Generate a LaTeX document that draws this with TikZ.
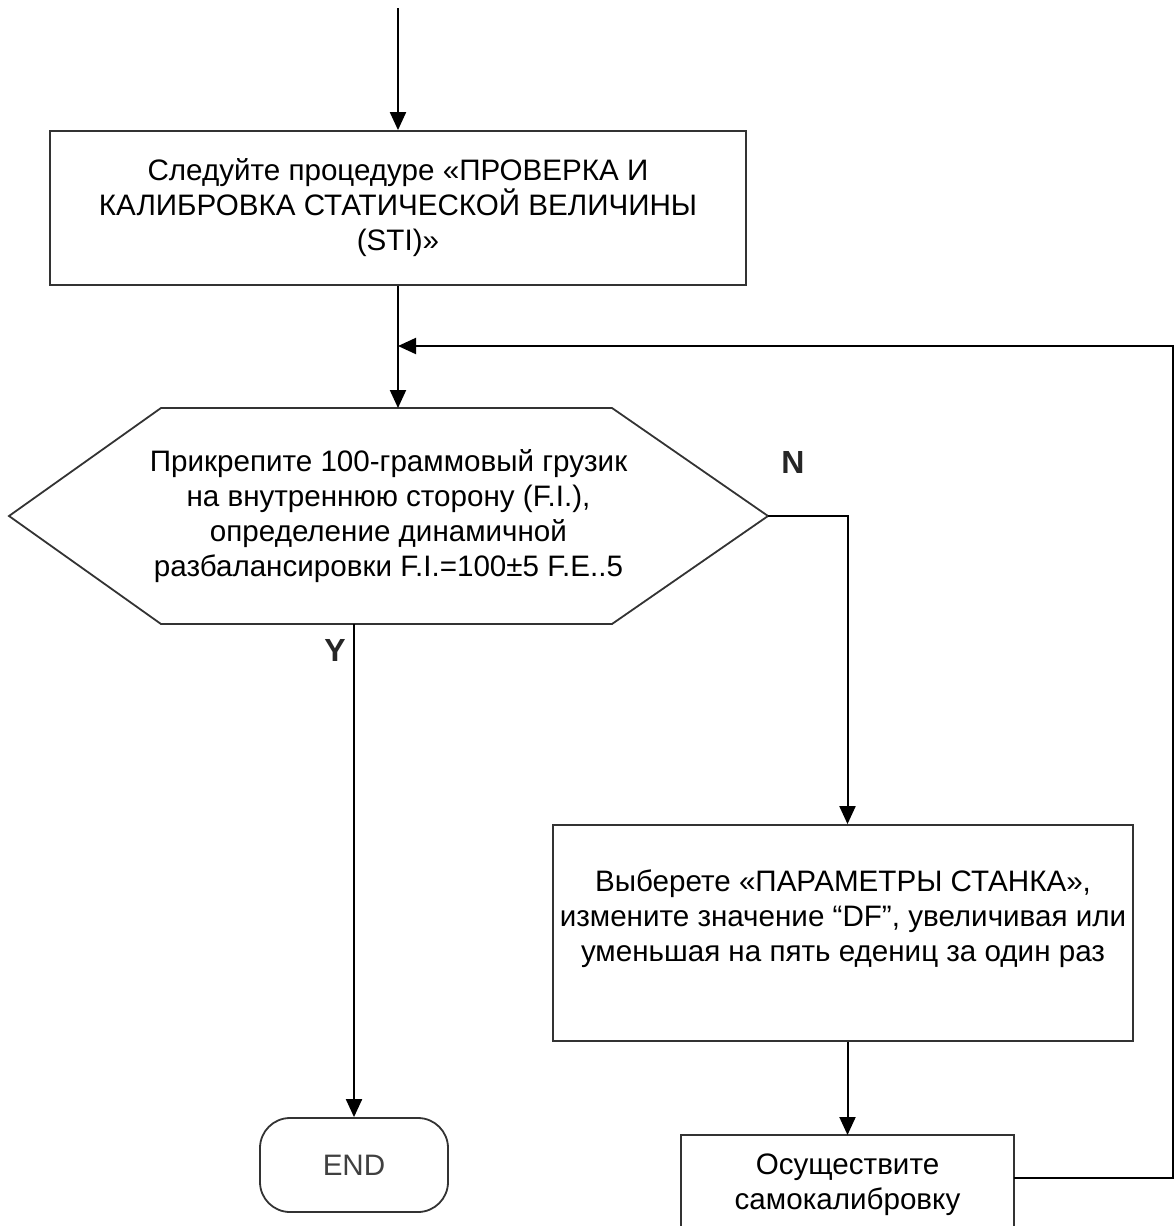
\documentclass[tikz,border=0pt]{standalone}
\usepackage{fontspec}
\setmainfont{Liberation Sans}
\usetikzlibrary{arrows.meta,positioning}

\begin{document}
\begin{tikzpicture}[
  x=0.5pt, y=-0.5pt,
  every node/.style={font=\fontsize{14.8}{17.5}\selectfont},
  box/.style={rectangle, draw=black!80, line width=0.9pt, align=center, inner sep=2pt},
  term/.style={box, rounded corners=15pt, text=black!75},
  yn/.style={font=\fontsize{16}{18}\selectfont\bfseries, text=black!85},
  frame/.style={draw=black!80, line width=0.9pt},
  arr/.style={-{Triangle[length=9pt,width=8pt]}, line width=1pt}
]
\useasboundingbox (0,0) rectangle (1175,1226);

% boxes
\node[box, minimum width=348pt, minimum height=77pt] (sti) at (398,208)
  {Следуйте процедуре «ПРОВЕРКА И\\ КАЛИБРОВКА СТАТИЧЕСКОЙ ВЕЛИЧИНЫ\\ (STI)»};
\draw[frame] (9,516) -- (161,408) -- (612,408) -- (768,516) -- (612,624) -- (161,624) -- cycle;
\node[align=center] (check) at (388.5,516)
  {Прикрепите 100-граммовый грузик\\ на внутреннюю сторону (F.I.),\\ определение динамичной\\ разбалансировки F.I.=100±5 F.E..5};
\node[box, minimum width=290pt, minimum height=108pt] (param) at (843,933)
  {Выберете «ПАРАМЕТРЫ СТАНКА»,\\ измените значение “DF”, увеличивая или\\ уменьшая на пять едениц за один раз\\~};
\node[box, draw=none, anchor=north, minimum width=165.5pt, minimum height=49pt] (calib) at (847.5,1135)
  {Осуществите\\ самокалибровку};
\node[term, minimum width=94pt, minimum height=47pt] (done) at (354,1165) {END};

% free ends
\coordinate (start) at (398,8);
\coordinate (hexN) at (398,408);
\coordinate (hexE) at (768,516);
\coordinate (hexS) at (354,624);
\coordinate (loopT) at (1173,346);
\coordinate (loopB) at (1173,1178);
\coordinate (cut) at (0,1260);

% box cut by the page edge
\draw[frame] (calib.west |- cut) -- (calib.north west) -- (calib.north east) -- (calib.east |- cut);

% connectors
\draw[arr] (start) -- (sti);
\draw[arr] (sti) -- (hexN);
\draw[arr] (calib.east |- loopB) -- (loopB) -- (loopT) -- (sti.south |- loopT);
\draw[arr] (hexE) -- (hexE -| calib.north) -- (calib.north |- param.north);
\draw[arr] (calib.north |- param.south) -- (calib.north);
\draw[arr] (hexS) -- (done);

\node[yn] (no) at (793,462) {N};
\node[yn] (yes) at (335,650) {Y};
\end{tikzpicture}
\end{document}
